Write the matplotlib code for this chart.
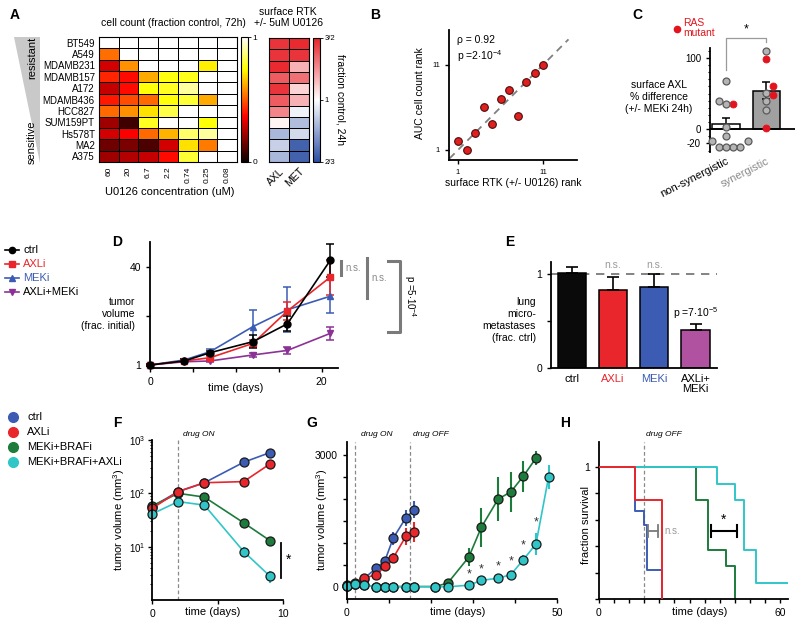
import numpy as np
import matplotlib
matplotlib.use('Agg')
import matplotlib.pyplot as plt
from matplotlib.colors import LinearSegmentedColormap
from matplotlib.patches import Polygon
from matplotlib.ticker import MultipleLocator, FixedLocator

plt.rcParams['font.family'] = ['Liberation Sans', 'DejaVu Sans']
plt.rcParams['font.size'] = 7.5
plt.rcParams['axes.linewidth'] = 1.3
plt.rcParams['xtick.major.width'] = 1.0
plt.rcParams['ytick.major.width'] = 1.0
plt.rcParams['xtick.major.size'] = 3
plt.rcParams['ytick.major.size'] = 3
plt.rcParams['xtick.labelsize'] = 7.5
plt.rcParams['ytick.labelsize'] = 7.5
plt.rcParams['mathtext.default'] = 'regular'

# ---------------- data ----------------
cell_lines = ['BT549', 'A549', 'MDAMB231', 'MDAMB157', 'A172', 'MDAMB436',
              'HCC827', 'SUM159PT', 'Hs578T', 'MA2', 'A375']
conc_labels = ['60', '20', '6.7', '2.2', '0.74', '0.25', '0.08']
cell_count = np.array([
    [1.00, 1.00, 1.00, 1.00, 1.00, 1.00, 1.00],
    [0.53, 1.00, 1.00, 1.00, 1.00, 1.00, 1.00],
    [0.30, 0.58, 1.00, 1.00, 1.00, 0.72, 1.00],
    [0.42, 0.38, 0.62, 0.76, 0.77, 1.00, 1.00],
    [0.28, 0.38, 0.75, 0.78, 0.90, 1.00, 1.00],
    [0.40, 0.48, 0.52, 0.75, 0.80, 0.62, 1.00],
    [0.52, 0.58, 0.70, 0.82, 1.00, 1.00, 1.00],
    [0.22, 0.08, 0.78, 1.00, 1.00, 0.75, 1.00],
    [0.30, 0.36, 0.52, 0.63, 0.85, 0.90, 1.00],
    [0.15, 0.17, 0.10, 0.30, 0.70, 0.55, 1.00],
    [0.22, 0.25, 0.28, 0.38, 0.80, 1.00, 1.00],
])
rtk_names = ['AXL', 'MET']
rtk_fold = np.array([
    [1.45, 1.48], [1.45, 1.45], [1.48, 1.15], [1.35, 1.30], [1.45, 1.08],
    [1.35, 1.15], [1.25, 0.97], [1.02, 0.86], [0.85, 0.92], [0.90, 0.70],
    [0.85, 0.70],
])

rtk_rank = [1, 2, 3, 4, 5, 6, 7, 8, 9, 10, 11]
auc_rank = [2, 1, 3, 6, 4, 7, 8, 5, 9, 10, 11]

c_groups = ['non-synergistic', 'synergistic']
c_means = [8, 54]
c_sem = [8, 12]
c_nonsyn_vals = [67, 39, 36, 35, 3, -9, -16, -16, -25, -25, -25, -25]
c_nonsyn_ras = [0, 0, 1, 0, 0, 0, 0, 0, 0, 0, 0, 0]
c_syn_vals = [110, 99, 60, 51, 48, 40, 27, 2]
c_syn_ras = [0, 1, 1, 0, 1, 0, 0, 1]

d_days = [0, 4, 7, 12, 16, 21]
d_ctrl = [1, 2.6, 5.9, 10.3, 17.4, 42.7]
d_ctrl_err = [0.4, 0.6, 0.8, 2.5, 3.0, 6.5]
d_axl = [1, 2.6, 3.9, 9.6, 22.5, 36]
d_axl_err = [0.4, 0.5, 0.8, 1.5, 3.7, 7.0]
d_mek = [1, 3.0, 6.3, 16.3, 23, 28.4]
d_mek_err = [0.4, 0.5, 1.2, 6.5, 9.0, 6.5]
d_combo = [1, 2.3, 2.6, 5.0, 6.8, 13.6]
d_combo_err = [0.3, 0.3, 0.4, 0.8, 1.5, 2.5]

e_labels = ['ctrl', 'AXLi', 'MEKi', 'AXLi+\nMEKi']
e_vals = [1.01, 0.83, 0.86, 0.40]
e_err = [0.07, 0.14, 0.14, 0.07]

f_days = [0, 2, 4, 7, 9]
f_ctrl = [56, 108, 158, 383, 580]
f_axl = [52, 108, 158, 166, 355]
f_mb = [58, 100, 85, 28, 13]
f_mba = [41, 70, 60, 8.1, 2.8]
f_axl_err = [4, 8, 10, 30, 30]
f_mba_err = [3, 5, 5, 1.6, 0.7]

g_days_short = [0, 2, 4, 7, 9, 11, 14, 16]
g_ctrl = [40, 70, 190, 430, 590, 1110, 1570, 1760]
g_ctrl_err = [10, 20, 30, 60, 80, 150, 180, 200]
g_axl = [30, 80, 200, 280, 470, 660, 1150, 1250]
g_axl_err = [10, 20, 30, 60, 100, 120, 200, 220]
g_mb_days = [0, 2, 4, 7, 9, 11, 14, 16, 21, 24, 29, 32, 36, 39, 42, 45]
g_mb = [30, 60, 40, 10, 10, 10, 10, 10, 10, 90, 680, 1360, 2000, 2160, 2520, 2930]
g_mb_err = [0, 0, 0, 0, 0, 0, 0, 0, 0, 40, 200, 440, 500, 450, 350, 150]
g_mba_days = [0, 2, 4, 7, 9, 11, 14, 16, 21, 24, 29, 32, 36, 39, 42, 45, 48]
g_mba = [30, 70, 40, 5, 5, 5, 5, 5, 5, 5, 40, 150, 200, 280, 620, 980, 2500]
g_mba_err = [0, 0, 0, 0, 0, 0, 0, 0, 0, 0, 20, 30, 40, 60, 100, 250, 280]
g_star_days = [29, 32, 36, 39, 42, 45]

h_ctrl_t = [0, 12, 15, 16, 21]
h_ctrl_s = [1, 0.67, 0.56, 0.22, 0]
h_axl_t = [0, 12, 21]
h_axl_s = [1, 0.75, 0]
h_mb_t = [0, 32, 36, 42, 45]
h_mb_s = [1, 0.75, 0.375, 0.25, 0]
h_mba_t = [0, 39, 45, 48, 52, 62.5]
h_mba_s = [1, 0.875, 0.75, 0.375, 0.125, 0.125]

# ---------------- colours ----------------
BLUE = '#3c5cb4'
RED = '#e8262b'
GREEN = '#1d7b3c'
CYAN = '#30c6c8'
PURPLE = '#8c3296'
MAGENTA = '#b0529f'
GRAY = '#8a8a8a'

W, H = 800, 625
fig = plt.figure(figsize=(8, 6.25), dpi=100)


def add_ax(x0, y0, x1, y1):
    return fig.add_axes([x0 / W, 1 - y1 / H, (x1 - x0) / W, (y1 - y0) / H])


def style(ax):
    ax.spines['top'].set_visible(False)
    ax.spines['right'].set_visible(False)


ov = add_ax(0, 0, W, H)
ov.set_xlim(0, W)
ov.set_ylim(H, 0)
ov.axis('off')
ov.patch.set_alpha(0)
ov.set_zorder(10)

# panel letters
for lab, (x, y) in {'A': (15, 15), 'B': (375, 15), 'C': (637, 15), 'D': (117, 242),
                    'E': (510, 242), 'F': (117, 423), 'G': (312, 423), 'H': (565, 423)}.items():
    ov.text(x, y, lab, fontsize=10, fontweight='bold', ha='center', va='center')

# ---------------- A ----------------
axA = add_ax(99, 37, 237, 162)
mA = axA.pcolormesh(cell_count, cmap='hot', vmin=0, vmax=1, edgecolors='k', linewidth=0.6)
axA.set_ylim(len(cell_lines), 0)
axA.set_xticks(np.arange(len(conc_labels)) + 0.5)
axA.set_xticklabels(conc_labels, rotation=90, fontsize=6)
axA.set_yticks(np.arange(len(cell_lines)) + 0.5)
axA.set_yticklabels(cell_lines, fontsize=7)
axA.tick_params(length=0, pad=3)
for s in axA.spines.values():
    s.set_linewidth(0.8)
caxA = add_ax(241, 37, 248, 162)
cbA = fig.colorbar(mA, cax=caxA, ticks=[0, 1])
cbA.outline.set_linewidth(0.8)
caxA.tick_params(labelsize=6, length=2, width=0.6, pad=1)
ov.text(173, 23, 'cell count (fraction control, 72h)', ha='center', va='center', fontsize=7.5)
ov.text(170, 192, 'U0126 concentration (uM)', ha='center', va='center', fontsize=8)
ov.add_patch(Polygon([(14, 37), (40, 37), (40, 163)], closed=True, color='#c9c9c9', lw=0))
ov.text(32, 58, 'resistant', rotation=90, ha='center', va='center', fontsize=8)
ov.text(32, 142, 'sensitive', rotation=90, ha='center', va='center', fontsize=8)

cmap_rtk = LinearSegmentedColormap.from_list('rtk', ['#2a4da3', '#ffffff', '#e8232a'])
axA2 = add_ax(269, 38, 309, 162)
mA2 = axA2.pcolormesh(np.log(rtk_fold), cmap=cmap_rtk, vmin=np.log(2 / 3), vmax=np.log(1.5),
                      edgecolors='k', linewidth=0.6)
axA2.set_ylim(len(cell_lines), 0)
axA2.set_yticks([])
axA2.set_xticks(np.arange(2) + 0.5)
axA2.set_xticklabels(rtk_names, rotation=45, ha='right', rotation_mode='anchor', fontsize=7.5)
axA2.tick_params(length=0, pad=3)
for s in axA2.spines.values():
    s.set_linewidth(0.8)
caxA2 = add_ax(313, 38, 320, 162)
cbA2 = fig.colorbar(mA2, cax=caxA2, ticks=[np.log(2 / 3), 0, np.log(1.5)])
cbA2.ax.set_yticklabels(['2/3', '1', '3/2'])
cbA2.outline.set_linewidth(0.8)
caxA2.tick_params(labelsize=5.5, length=2, width=0.6, pad=1)
ov.text(288, 12, 'surface RTK', ha='center', va='center', fontsize=7.5)
ov.text(288, 23, '+/- 5uM U0126', ha='center', va='center', fontsize=7.5)
ov.text(341, 100, 'fraction control, 24h', rotation=270, ha='center', va='center', fontsize=7.5)

# ---------------- B ----------------
axB = add_ax(449, 30, 577, 160)
style(axB)
axB.plot([0, 14], [0, 14], ls=(0, (4, 3)), color='#808080', lw=1.3, zorder=1)
axB.plot(rtk_rank, auc_rank, 'o', ms=5.5, mfc='#e0201e', mec='#4a0a0a', mew=0.8, zorder=3)
axB.set_xlim(-0.06, 15)
axB.set_ylim(-0.18, 15.1)
axB.set_xticks([1, 11])
axB.set_yticks([1, 11])
axB.tick_params(labelsize=5.5, length=3)
axB.text(0.06, 0.92, 'ρ = 0.92', transform=axB.transAxes, va='center', fontsize=7.5)
axB.text(0.06, 0.80, 'p =2$\\cdot$10$^{-4}$', transform=axB.transAxes, va='center', fontsize=7.5)
ov.text(513, 183, 'surface RTK (+/- U0126) rank', ha='center', va='center', fontsize=7.5)
ov.text(420, 93, 'AUC cell count rank', rotation=90, ha='center', va='center', fontsize=7.5)

# ---------------- C ----------------
axC = add_ax(710, 48, 795, 152)
axC.spines['top'].set_visible(False)
axC.spines['right'].set_visible(False)
axC.spines['bottom'].set_visible(False)
axC.set_xlim(-0.4, 1.72)
axC.set_ylim(-32, 114)
axC.bar([0, 1], c_means, width=0.68, color=['white', '#a0a0a0'], edgecolor='k', lw=1.1, zorder=2)
axC.errorbar([0, 1], c_means, yerr=c_sem, fmt='none', ecolor='k', elinewidth=1.1,
             capsize=3, capthick=1.1, zorder=3)
axC.axhline(0, color='k', lw=1.3, zorder=2.5)


def swarm(vals, center, xs=40.0, ys=0.7, d=7.2):
    placed = []
    out = np.zeros(len(vals))
    order = np.argsort(vals)
    cands = [0]
    for j in range(1, 8):
        cands += [j * d, -j * d]
    for i in order:
        py = vals[i] * ys
        for ox in cands:
            if all((ox - qx) ** 2 + (py - qy) ** 2 >= d ** 2 for qx, qy in placed):
                break
        placed.append((ox, py))
        out[i] = center + ox / xs
    return out


for k, (vals, ras) in enumerate([(c_nonsyn_vals, c_nonsyn_ras), (c_syn_vals, c_syn_ras)]):
    xs = swarm(np.array(vals, float), k)
    for x, v, r in zip(xs, vals, ras):
        if r:
            axC.plot(x, v, 'o', ms=5, mfc='#e3141e', mec='#e3141e', mew=0.6, zorder=4, clip_on=False)
        else:
            axC.plot(x, v, 'o', ms=5, mfc='#b4b4b4', mec='#5a5a5a', mew=0.9, zorder=4, clip_on=False)
axC.set_yticks([-20, 0, 100])
axC.set_yticklabels(['-20', '0', '100'])
axC.yaxis.set_minor_locator(MultipleLocator(10))
axC.tick_params(axis='y', which='minor', length=1.5, width=0.8)
axC.tick_params(axis='y', labelsize=7)
axC.set_xticks([0, 1])
axC.set_xticklabels(c_groups, rotation=27, ha='right', rotation_mode='anchor', fontsize=8)
axC.tick_params(axis='x', length=0, pad=3)
axC.get_xticklabels()[1].set_color(GRAY)
axC.plot([0, 0, 1, 1], [83, 128.6, 128.6, 123], color='#9a9a9a', lw=0.9, clip_on=False)
axC.text(0.5, 140, '*', ha='center', va='center', fontsize=9)
ov.text(659, 97, 'surface AXL\n% difference\n(+/- MEKi 24h)', ha='center', va='center',
        fontsize=7.5, linespacing=1.25)
ov.plot(677, 29, 'o', ms=4.5, color='#e3141e')
ov.text(683, 28, 'RAS\nmutant', color='#e3141e', ha='left', va='center', fontsize=7.5, linespacing=1.0)

# ---------------- D ----------------
axD = add_ax(150, 242, 338, 368)
style(axD)
for vals, err, c, m in [(d_mek, d_mek_err, BLUE, '^'), (d_combo, d_combo_err, PURPLE, 'v'),
                        (d_axl, d_axl_err, RED, 's'), (d_ctrl, d_ctrl_err, 'k', 'o')]:
    axD.errorbar(d_days, vals, yerr=err, color=c, marker=m, ms=5, lw=1.2, capsize=3,
                 elinewidth=1.1, capthick=1.1, clip_on=False)
axD.set_xlim(0, 21.9)
axD.set_ylim(-0.2, 50)
axD.set_xticks([0, 5, 10, 15, 20])
axD.set_xticklabels(['0', '', '', '', '20'])
axD.set_yticks([1, 20.5, 40])
axD.set_yticklabels(['1', '', '40'])
axD.plot([22.3, 22.3], [42.4, 36.9], color='#7a7a7a', lw=2.2, clip_on=False)
axD.text(22.8, 39.6, 'n.s.', color=GRAY, va='center', fontsize=7)
axD.plot([25.3, 25.3], [43.6, 27.7], color='#7a7a7a', lw=2.2, clip_on=False)
axD.text(25.8, 35.5, 'n.s.', color=GRAY, va='center', fontsize=7)
axD.plot([27.7, 29.1, 29.1, 27.7], [42.4, 42.4, 14.1, 14.1], color='#7a7a7a', lw=2.2,
         clip_on=False)
axD.text(30.3, 28.2, 'p =5$\\cdot$10$^{-4}$', rotation=270, ha='center', va='center', fontsize=7)
ov.text(236, 388, 'time (days)', ha='center', va='center', fontsize=8)
ov.text(135, 314, 'tumor\nvolume\n(frac. initial)', ha='right', va='center', fontsize=7.5,
        multialignment='right', linespacing=1.25)
for y, lab, c, tc, m in [(250, 'ctrl', 'k', 'k', 'o'), (264, 'AXLi', RED, RED, 's'),
                         (278, 'MEKi', BLUE, BLUE, '^'), (292, 'AXLi+MEKi', PURPLE, 'k', 'v')]:
    ov.plot([5, 19], [y, y], color=c, lw=1.2)
    ov.plot(12, y, marker=m, color=c, ms=4.5)
    ov.text(23, y, lab, color=tc, va='center', fontsize=8)

# ---------------- E ----------------
axE = add_ax(551, 262, 717, 368)
style(axE)
axE.bar(range(4), e_vals, width=0.68, color=['#0a0a0a', RED, BLUE, MAGENTA],
        edgecolor='k', lw=1.1, zorder=2)
axE.errorbar(range(4), e_vals, yerr=[np.zeros(4), e_err], fmt='none', ecolor='k',
             elinewidth=1.2, capsize=4, capthick=1.2, zorder=3)
axE.axhline(1, ls=(0, (5, 4)), color='#6e6e6e', lw=1.2, zorder=1)
axE.set_xlim(-0.5, 3.52)
axE.set_ylim(0, 1.13)
axE.set_yticks([0, 0.5, 1])
axE.set_yticklabels(['0', '', '1'])
axE.set_xticks(range(4))
axE.set_xticklabels(e_labels, fontsize=8, linespacing=1.1)
axE.tick_params(axis='x', length=0, pad=4)
for lbl, c in zip(axE.get_xticklabels(), ['k', RED, BLUE, 'k']):
    lbl.set_color(c)
axE.text(1, 1.1, 'n.s.', color='#9a9a9a', ha='center', va='center', fontsize=7.5)
axE.text(2, 1.1, 'n.s.', color='#9a9a9a', ha='center', va='center', fontsize=7.5)
axE.text(3, 0.585, 'p =7$\\cdot$10$^{-5}$', ha='center', va='center', fontsize=7.5)
ov.text(536, 320, 'lung\nmicro-\nmetastases\n(frac. ctrl)', ha='right', va='center',
        fontsize=7.5, multialignment='right', linespacing=1.25)

# ---------------- legend F/G/H ----------------
for y, lab, c in [(417, 'ctrl', BLUE), (432, 'AXLi', RED), (447, 'MEKi+BRAFi', GREEN),
                  (462, 'MEKi+BRAFi+AXLi', CYAN)]:
    ov.plot(13, y, 'o', ms=7, color=c)
    ov.text(27, y, lab, va='center', fontsize=8)

mk = dict(marker='o', ms=6.5, mec='#1a1a1a', mew=0.9, lw=1.2, capsize=0, elinewidth=1.5,
          clip_on=False)

# ---------------- F ----------------
axF = add_ax(152, 440, 283, 600)
style(axF)
axF.set_yscale('log')
axF.axvline(2, ls=(0, (3, 2)), color='#8a8a8a', lw=0.9, zorder=0)
axF.errorbar(f_days, f_ctrl, color=BLUE, mfc=BLUE, **mk)
axF.errorbar(f_days, f_mb, color=GREEN, mfc=GREEN, **mk)
axF.errorbar(f_days, f_axl, yerr=f_axl_err, color=RED, mfc=RED, **mk)
axF.errorbar(f_days, f_mba, yerr=f_mba_err, color=CYAN, mfc=CYAN, **mk)
axF.set_xlim(0, 10)
axF.set_ylim(1, 1000)
axF.yaxis.set_major_locator(FixedLocator([10, 100, 1000]))
axF.set_yticklabels(['$10^1$', '$10^2$', '$10^3$'])
axF.tick_params(axis='y', which='minor', length=1.5, width=0.7)
axF.tick_params(axis='y', labelsize=7, pad=2)
axF.set_xticks([0, 5, 10])
axF.set_xticklabels(['0', '', '10'])
axF.plot([9.85, 9.85], [11.7, 2.6], color='k', lw=1.3, clip_on=False)
axF.text(10.45, 5.6, '*', ha='center', va='center', fontsize=10)
ov.text(183, 438, 'drug ON', style='italic', fontsize=6, va='bottom', ha='left')
ov.text(213, 612, 'time (days)', ha='center', va='center', fontsize=8)
ov.text(119, 520, 'tumor volume (mm$^3$)', rotation=90, ha='center', va='center', fontsize=8)

# ---------------- G ----------------
axG = add_ax(347, 442, 557, 599)
style(axG)
for xd in (2, 15):
    axG.axvline(xd, ls=(0, (3, 2)), color='#8a8a8a', lw=0.9, zorder=0)
axG.errorbar(g_days_short, g_ctrl, yerr=g_ctrl_err, color=BLUE, mfc=BLUE, **mk)
axG.errorbar(g_days_short, g_axl, yerr=g_axl_err, color=RED, mfc=RED, **mk)
axG.errorbar(g_mb_days, g_mb, yerr=g_mb_err, color=GREEN, mfc=GREEN, **mk)
axG.errorbar(g_mba_days, g_mba, yerr=g_mba_err, color=CYAN, mfc=CYAN, **mk)
for sd in g_star_days:
    i = g_mba_days.index(sd)
    axG.text(sd, g_mba[i] + g_mba_err[i] + 230, '*', ha='center', va='center', fontsize=9,
             color='#333333')
axG.set_xlim(0, 50)
axG.set_ylim(-273, 3295)
axG.set_yticks([0, 500, 1000, 1500, 2000, 2500, 3000])
axG.set_yticklabels(['0', '', '', '', '', '', '3000'])
axG.set_xticks([0, 10, 20, 30, 40, 50])
axG.set_xticklabels(['0', '', '', '', '', '50'])
ov.text(361, 438, 'drug ON', style='italic', fontsize=6, va='bottom', ha='left')
ov.text(413, 438, 'drug OFF', style='italic', fontsize=6, va='bottom', ha='left')
ov.text(458, 612, 'time (days)', ha='center', va='center', fontsize=8)
ov.text(322, 520, 'tumor volume (mm$^3$)', rotation=90, ha='center', va='center', fontsize=8)

# ---------------- H ----------------
axH = add_ax(599, 442, 788, 599)
style(axH)
axH.axvline(15, ls=(0, (3, 2)), color='#8a8a8a', lw=0.9, zorder=0)
axH.step(h_ctrl_t, h_ctrl_s, where='post', color=BLUE, lw=1.4, zorder=2)
axH.step(h_axl_t, h_axl_s, where='post', color=RED, lw=1.4, zorder=3)
axH.step(h_mb_t, h_mb_s, where='post', color=GREEN, lw=1.4, zorder=2)
axH.step(h_mba_t, h_mba_s, where='post', color=CYAN, lw=1.4, zorder=2)
axH.set_xlim(0, 62.6)
axH.set_ylim(0, 1.19)
axH.set_yticks([0, 0.2, 0.4, 0.6, 0.8, 1.0])
axH.set_yticklabels(['', '', '', '', '', '1'])
axH.set_xticks(np.arange(0, 61, 5))
axH.set_xticklabels(['0'] + [''] * 11 + ['60'])
axH.plot([16.2, 19.5], [0.515, 0.515], color='#7a7a7a', lw=1.3)
for xx in (16.2, 19.5):
    axH.plot([xx, xx], [0.47, 0.56], color='#7a7a7a', lw=1.3)
axH.text(21.5, 0.515, 'n.s.', color='#9a9a9a', va='center', fontsize=7)
axH.plot([37.1, 45.7], [0.515, 0.515], color='k', lw=1.5)
for xx in (37.1, 45.7):
    axH.plot([xx, xx], [0.47, 0.56], color='k', lw=1.5)
axH.text(41.4, 0.6, '*', ha='center', va='center', fontsize=10)
ov.text(646, 438, 'drug OFF', style='italic', fontsize=6, va='bottom', ha='left')
ov.text(700, 612, 'time (days)', ha='center', va='center', fontsize=8)
ov.text(586, 525, 'fraction survival', rotation=90, ha='center', va='center', fontsize=8)

fig.savefig('out.png', dpi=100)
